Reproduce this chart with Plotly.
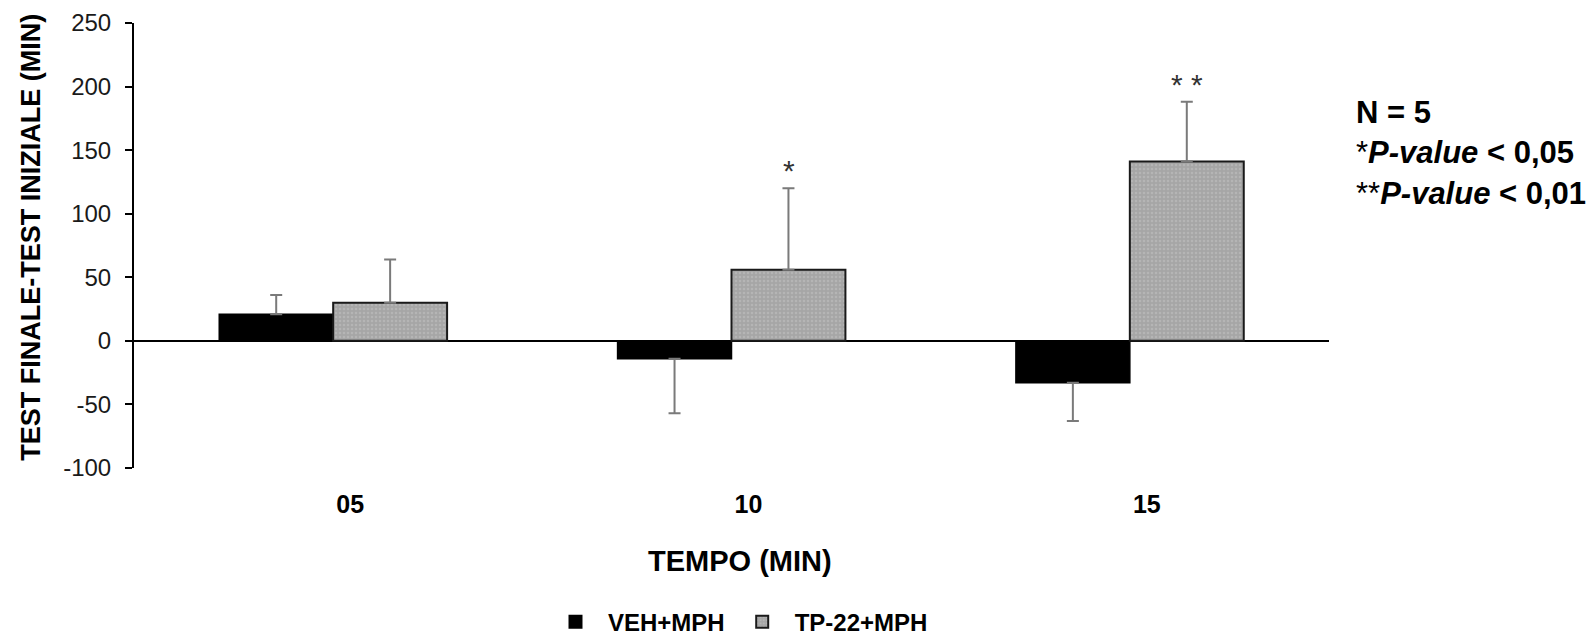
import plotly.graph_objects as go

categories = ["05", "10", "15"]
veh_values = [21, -14, -33]
veh_err_plus = [15, 0, 0]
veh_err_minus = [0, 43, 30]
tp_values = [30, 56, 141]
tp_err_plus = [34, 64, 47]
tp_err_minus = [0, 0, 0]
series_names = ["VEH+MPH", "TP-22+MPH"]
sig_labels = ["", "*", "* *"]
y_ticks = [-100, -50, 0, 50, 100, 150, 200, 250]
y_ticktext = ["-100", "-50", "0", "50", "100", "150", "200", "250"]

FONT = "Liberation Sans, Arial"

fig = go.Figure()
fig.add_trace(go.Bar(
    x=categories, y=veh_values, name=series_names[0],
    marker=dict(color="#000000", line=dict(color="#000000", width=1.5)),
    error_y=dict(type="data", symmetric=False, array=veh_err_plus,
                 arrayminus=veh_err_minus, color="#7a7a7a", thickness=2, width=6),
))
fig.add_trace(go.Bar(
    x=categories, y=tp_values, name=series_names[1],
    marker=dict(color="#a6a6a6", line=dict(color="#1a1a1a", width=2),
                pattern=dict(shape=".", fgcolor="#c4c4c4", size=4, solidity=0.3,
                             fillmode="overlay")),
    error_y=dict(type="data", symmetric=False, array=tp_err_plus,
                 arrayminus=tp_err_minus, color="#7a7a7a", thickness=2, width=6),
))

# significance stars above the TP-22 bars
for i, (v, e, s) in enumerate(zip(tp_values, tp_err_plus, sig_labels)):
    if s:
        fig.add_annotation(x=i, y=v + e, xref="x", yref="y", text=s, showarrow=False,
                           xshift=57, yshift=-1, yanchor="bottom",
                           font=dict(family=FONT, size=30, color="#333333"))

fig.add_annotation(
    xref="paper", yref="paper", x=(1354 - 134) / 1195, y=(468 - 153) / 444.4,
    xanchor="left", yanchor="middle", align="left", showarrow=False,
    text="<b>N = 5</b><br>*<b><i>P-value</i> &lt; 0,05</b><br>**<b><i>P-value</i> &lt; 0,01</b>",
    font=dict(family=FONT, size=31, color="#000000"),
)
# axis titles
fig.add_annotation(
    xref="paper", yref="paper", x=(31 - 134) / 1195, y=(468 - 238) / 444.4,
    xanchor="center", yanchor="middle", textangle=-90, showarrow=False,
    text="<b>TEST FINALE-TEST INIZIALE (MIN)</b>",
    font=dict(family=FONT, size=27, color="#000000"),
)
fig.add_annotation(
    xref="paper", yref="paper", x=(740 - 134) / 1195, y=(468 - 561) / 444.4,
    xanchor="center", yanchor="middle", showarrow=False,
    text="<b>TEMPO (MIN)</b>",
    font=dict(family=FONT, size=29, color="#000000"),
)

fig.update_layout(
    width=1593, height=636,
    margin=dict(l=134, r=264, t=23, b=168, autoexpand=False),
    paper_bgcolor="white", plot_bgcolor="white",
    barmode="group", bargap=0.428, bargroupgap=0,
    showlegend=True,
    legend=dict(orientation="h", x=(738 - 134) / 1195, xanchor="center",
                y=(468 - 622) / 444.4, yanchor="middle",
                font=dict(family=FONT, size=24, color="#000000", weight="bold"),
                itemsizing="constant", itemwidth=55, borderwidth=0),
    font=dict(family=FONT),
)
fig.update_xaxes(type="category", range=[-0.5, 2.5], showline=False, showgrid=False,
                 ticks="", zeroline=False, ticklabelshift=17, ticklabelstandoff=19,
                 automargin=False,
                 tickfont=dict(family=FONT, size=25, color="#000000", weight="bold"))
fig.update_yaxes(range=[-100, 250], tickvals=y_ticks, ticktext=y_ticktext, showgrid=False,
                 showline=True, linecolor="#000000", linewidth=2,
                 ticks="outside", ticklen=7, tickwidth=2, tickcolor="#000000",
                 zeroline=True, zerolinecolor="#000000", zerolinewidth=2,
                 ticklabelstandoff=9, automargin=False,
                 tickfont=dict(family=FONT, size=24, color="#1a1a1a"))

fig.write_html("out.html")
